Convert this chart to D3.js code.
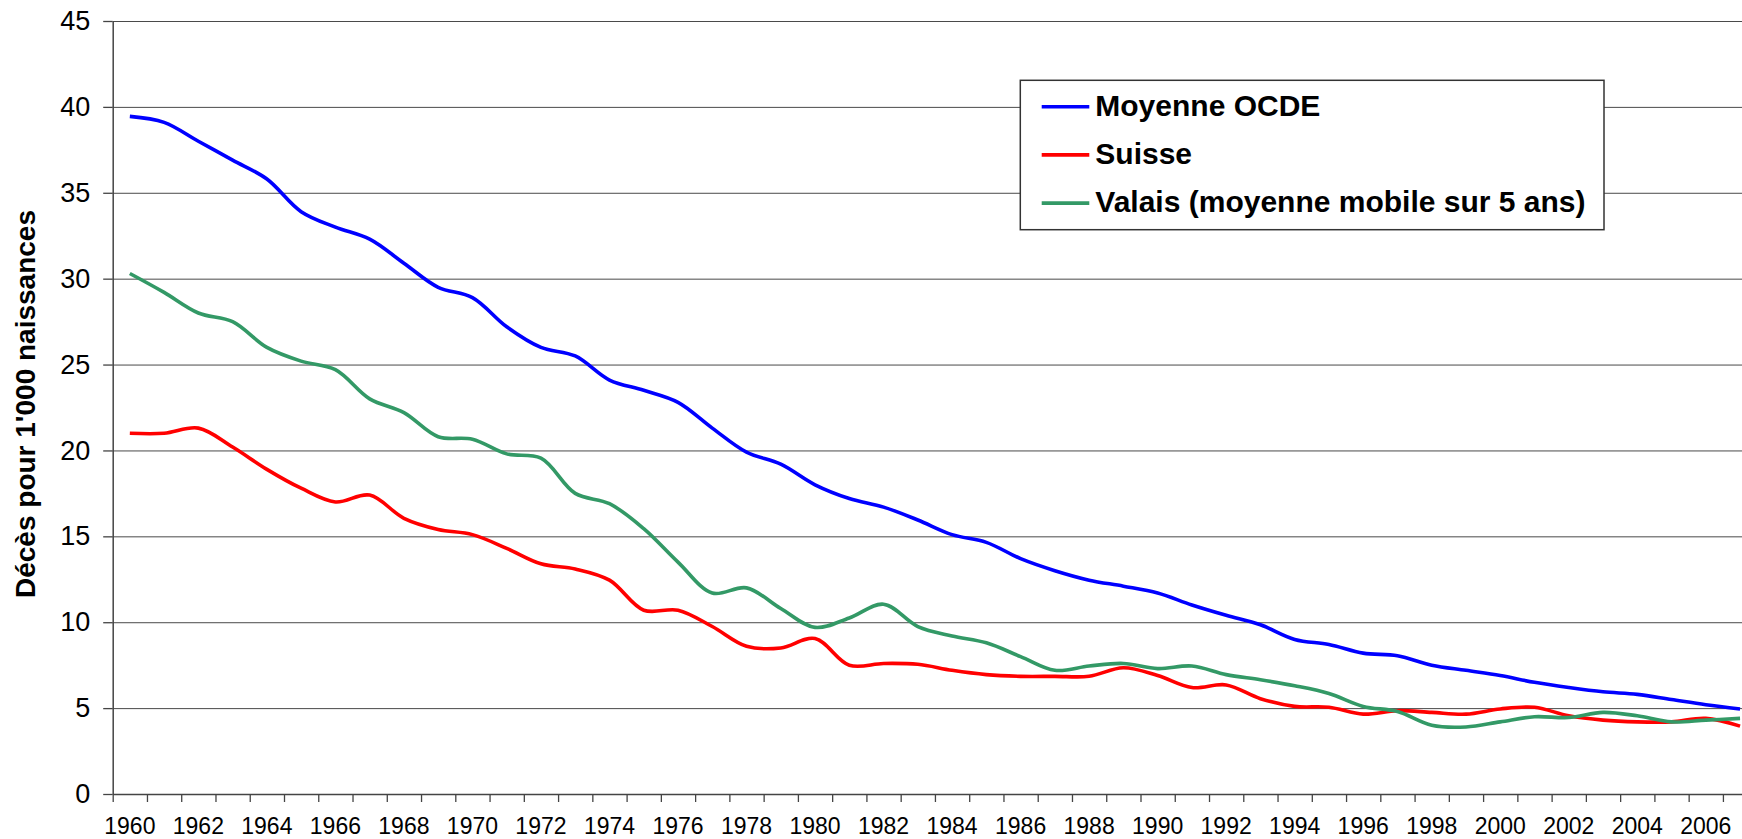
<!DOCTYPE html>
<html>
<head>
<meta charset="utf-8">
<script src="https://cdn.jsdelivr.net/npm/d3@7"></script>
<style>
  body { margin: 0; background: #fff; }
  svg { display: block; font-family: "Liberation Sans", Arial, sans-serif; }
</style>
</head>
<body>
<svg id="chart" width="1742" height="839"></svg>
<script>
// years on the category axis
const years = d3.range(1960, 2008)

// infant deaths per 1'000 births
const oecd = [39.45, 39.1, 38.0, 36.9, 35.8, 33.9, 33.0, 32.3, 30.9, 29.5,
  28.9, 27.2, 26.0, 25.5, 24.1, 23.5, 22.8, 21.3, 19.9, 19.2,
  18.0, 17.2, 16.7, 15.95, 15.1, 14.65, 13.7, 13.0, 12.45, 12.1,
  11.7, 11.0, 10.4, 9.85, 9.0, 8.7, 8.2, 8.05, 7.5, 7.2,
  6.9, 6.5, 6.2, 5.95, 5.8, 5.5, 5.2, 4.95]

const suisse = [21.0, 21.0, 21.3, 20.2, 18.9, 17.8, 17.0, 17.4, 16.05, 15.4,
  15.1, 14.3, 13.4, 13.1, 12.45, 10.7, 10.7, 9.75, 8.6, 8.5,
  9.05, 7.5, 7.6, 7.55, 7.2, 6.95, 6.85, 6.85, 6.85, 7.35,
  6.9, 6.2, 6.35, 5.55, 5.1, 5.05, 4.65, 4.85, 4.75, 4.65,
  4.95, 5.05, 4.55, 4.3, 4.2, 4.2, 4.4, 3.95]

const valais = [30.3, 29.2, 28.0, 27.5, 26.0, 25.2, 24.7, 23.0, 22.2, 20.8,
  20.65, 19.8, 19.55, 17.5, 16.9, 15.45, 13.5, 11.7, 12.0, 10.8,
  9.7, 10.25, 11.05, 9.75, 9.2, 8.8, 8.0, 7.2, 7.45, 7.6,
  7.3, 7.45, 6.95, 6.65, 6.3, 5.85, 5.1, 4.8, 4.0, 3.9,
  4.2, 4.5, 4.45, 4.75, 4.55, 4.2, 4.3, 4.4]

const yTicks = d3.range(0, 46, 5)
const xLabels = years.filter(yr => yr % 2 === 0)

const seriesNames = ['Moyenne OCDE', 'Suisse', 'Valais (moyenne mobile sur 5 ans)']
const seriesColors = ['#0000ff', '#ff0000', '#339966']
const seriesValues = [oecd, suisse, valais]

const svgWidth = 1742
const plotLeft = 112.7, plotTop = 21, plotBottom = 794
const catWidth = 34.26
const plotRight = plotLeft + catWidth * years.length   // plot runs past the picture edge

const svg = d3.select('#chart')

const xEdge = d3.scaleLinear()
  .domain([1960, 1960 + years.length])
  .range([plotLeft, plotRight])

const xBand = d3.scaleBand()
  .domain(years)
  .range([plotLeft, plotRight])

const yScale = d3.scaleLinear()
  .domain([0, 45])
  .range([plotBottom, plotTop])

// horizontal grid
svg.append('g')
  .attr('transform', 'translate(' + plotLeft + ',0)')
  .call(d3.axisLeft(yScale).tickValues(yTicks.slice(1)).tickSize(-(svgWidth - plotLeft)).tickFormat(''))
  .call(g => g.select('.domain').remove())
  .call(g => g.selectAll('line').attr('stroke', '#4a4a4a').attr('stroke-width', 1))

// y axis
svg.append('g')
  .attr('transform', 'translate(' + plotLeft + ',0)')
  .call(d3.axisLeft(yScale).tickValues(yTicks).tickSize(9.5).tickSizeOuter(0).tickPadding(13))
  .call(g => g.select('.domain').attr('stroke', '#444').attr('stroke-width', 1.5))
  .call(g => g.selectAll('line').attr('stroke', '#444').attr('stroke-width', 1.3))
  .call(g => g.selectAll('text').attr('font-size', 27).attr('fill', '#000')
    .attr('font-family', '"Liberation Sans", Arial, sans-serif'))

// x axis: tick marks on category edges
svg.append('g')
  .attr('transform', 'translate(0,' + plotBottom + ')')
  .call(d3.axisBottom(xEdge).tickValues(d3.range(1960, 1960 + years.length + 1))
    .tickSize(8).tickSizeOuter(0).tickFormat(''))
  .call(g => g.select('.domain').attr('stroke', '#444').attr('stroke-width', 1.5))
  .call(g => g.selectAll('line').attr('stroke', '#444').attr('stroke-width', 1.3))

// x axis: labels centred on categories
svg.append('g')
  .attr('transform', 'translate(0,' + plotBottom + ')')
  .call(d3.axisBottom(xBand).tickValues(xLabels).tickSize(0).tickPadding(24))
  .call(g => g.select('.domain').remove())
  .call(g => g.selectAll('text').attr('font-size', 23).attr('fill', '#000')
    .attr('font-family', '"Liberation Sans", Arial, sans-serif'))

// y axis title
svg.append('text')
  .attr('transform', 'translate(35,404) rotate(-90)')
  .attr('text-anchor', 'middle')
  .attr('font-size', 28)
  .attr('font-weight', 'bold')
  .text("Décès pour 1'000 naissances")

// lines
const line = d3.line()
  .x((d, i) => xBand(years[i]) + xBand.bandwidth() / 2)
  .y(d => yScale(d))
  .curve(d3.curveCatmullRom.alpha(0.5))

seriesValues.forEach((vals, i) => {
  svg.append('path')
    .datum(vals)
    .attr('fill', 'none')
    .attr('stroke', seriesColors[i])
    .attr('stroke-width', 3.6)
    .attr('stroke-linejoin', 'round')
    .attr('d', line)
})

// legend
const legend = svg.append('g').attr('transform', 'translate(1020.3,80.3)')
legend.append('rect')
  .attr('width', 583.7)
  .attr('height', 149.4)
  .attr('fill', '#fff')
  .attr('stroke', '#333')
  .attr('stroke-width', 1.5)

const items = legend.selectAll('g.item')
  .data(seriesNames)
  .enter()
  .append('g')
  .attr('class', 'item')
  .attr('transform', (d, i) => 'translate(0,' + (26.4 + i * 48.2) + ')')

items.append('line')
  .attr('x1', 21.4).attr('x2', 69)
  .attr('stroke', (d, i) => seriesColors[i])
  .attr('stroke-width', 3.6)

items.append('text')
  .attr('x', 75)
  .attr('y', 9.2)
  .attr('font-size', 30)
  .attr('font-weight', 'bold')
  .text(d => d)
</script>
</body>
</html>
